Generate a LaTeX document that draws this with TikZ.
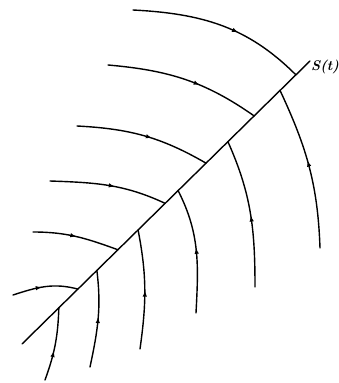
\documentclass[tikz,border=0pt]{standalone}
\usetikzlibrary{calc,arrows.meta,decorations.markings}
\begin{document}
\begin{tikzpicture}[x=1pt,y=1pt,
  ray/.style={line width=1.4pt, line cap=round},
  mk/.style={postaction={decorate},decoration={markings,
     mark=at position #1 with {\arrow{Latex[length=6pt,width=4.5pt]}}}}]
\useasboundingbox (0,0) rectangle (338,383);
\coordinate (A) at (22,39);
\coordinate (B) at (310,322);
\draw[ray] (A) -- (B);
\node[anchor=west, font=\itshape\bfseries\fontsize{14}{16}\selectfont, inner sep=0pt] (S) at (311,316) {S(t)};
% points on the shock line
\foreach \n/\t in {u1/0.951,u2/0.806,u3/0.639,u4/0.497,u5/0.333,u6/0.194,
                   l1/0.896,l2/0.715,l3/0.542,l4/0.403,l5/0.260,l6/0.128}
  \coordinate (\n) at ($(A)!\t!(B)$);
% free ends of the incoming curves (left)
\coordinate (p1) at (133,373);
\coordinate (p2) at (108,318);
\coordinate (p3) at (77,257);
\coordinate (p4) at (50,202);
\coordinate (p5) at (33,151);
\coordinate (p6) at (13,88);
% free ends of the incoming curves (below)
\coordinate (q1) at (320,135);
\coordinate (q2) at (255,96);
\coordinate (q3) at (196,70);
\coordinate (q4) at (140,34);
\coordinate (q5) at (90,16);
\coordinate (q6) at (45,3);
% left family
\draw[ray, mk=0.6]  (p1) to[out=-3, in=135] (u1);
\draw[ray, mk=0.6]  (p2) to[out=-5, in=145] (u2);
\draw[ray, mk=0.56] (p3) to[out=-3, in=150] (u3);
\draw[ray, mk=0.55] (p4) to[out=-2, in=155] (u4);
\draw[ray, mk=0.5]  (p5) to[out=0,  in=160] (u5);
\draw[ray, mk=0.45] (p6) to[out=18, in=165] (u6);
% lower family
\draw[ray, mk=0.54] (q1) to[out=92, in=-65] (l1);
\draw[ray, mk=0.48] (q2) to[out=90, in=-66] (l2);
\draw[ray, mk=0.52] (q3) to[out=87, in=-63] (l3);
\draw[ray, mk=0.49] (q4) to[out=82, in=-79] (l4);
\draw[ray, mk=0.52] (q5) to[out=78, in=-83] (l5);
\draw[ray, mk=0.41] (q6) to[out=70, in=-92] (l6);
\end{tikzpicture}
\end{document}
